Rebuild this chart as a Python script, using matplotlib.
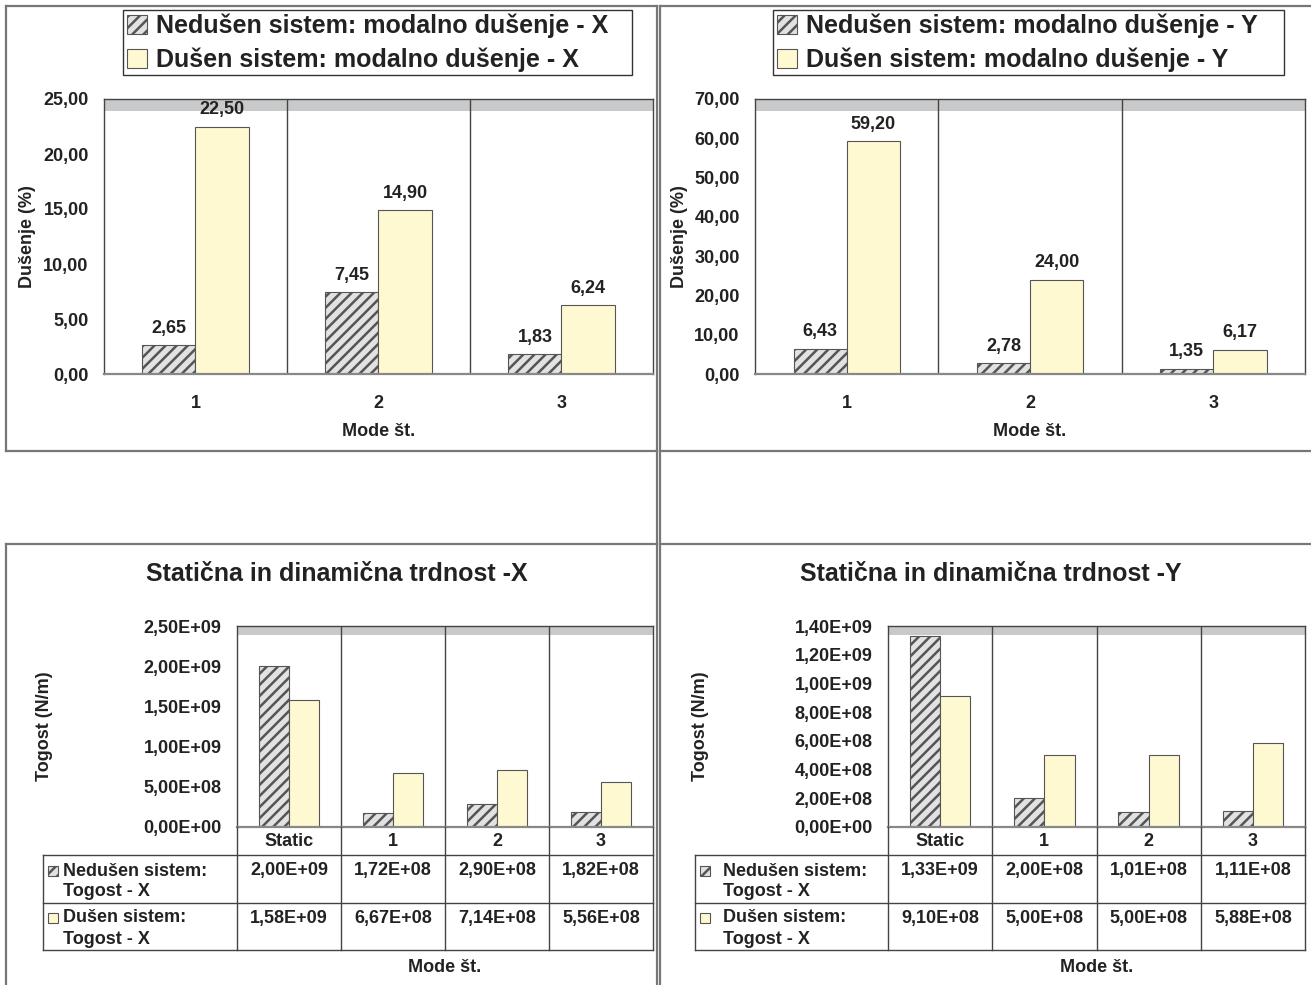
import numpy as np
import matplotlib
matplotlib.use("Agg")
import matplotlib.pyplot as plt
from matplotlib.patches import Rectangle
from matplotlib.lines import Line2D
from matplotlib.transforms import Affine2D, blended_transform_factory

# ---- data ----
modes = ["1", "2", "3"]
damp_x_undamped = [2.65, 7.45, 1.83]
damp_x_damped = [22.50, 14.90, 6.24]
damp_y_undamped = [6.43, 2.78, 1.35]
damp_y_damped = [59.20, 24.00, 6.17]

stiff_cats = ["Static", "1", "2", "3"]
stiff_x_undamped = [2.00e9, 1.72e8, 2.90e8, 1.82e8]
stiff_x_damped = [1.58e9, 6.67e8, 7.14e8, 5.56e8]
stiff_y_undamped = [1.33e9, 2.00e8, 1.01e8, 1.11e8]
stiff_y_damped = [9.10e8, 5.00e8, 5.00e8, 5.88e8]

W, H = 1311, 985
plt.rcParams['font.family'] = ['Liberation Sans Narrow', 'Liberation Sans', 'DejaVu Sans']
plt.rcParams['font.weight'] = 'bold'
plt.rcParams['axes.labelweight'] = 'bold'
plt.rcParams['hatch.linewidth'] = 1.8
plt.rcParams['hatch.color'] = '#474747'

TXT = '#222222'
YEL = '#FFF9D2'
HGRAY = '#e2e2e2'
EDGE = '#555555'
BAND = '#c8c9ca'

fig = plt.figure(figsize=(W / 100, H / 100), dpi=100)
pxT = Affine2D().scale(1 / W, -1 / H).translate(0, 1) + fig.transFigure


def px(l, t, r, b):
    return [l / W, 1 - b / H, (r - l) / W, (b - t) / H]


def fline(xs, ys, color='#777777', lw=1.6, tr=None):
    fig.add_artist(Line2D(xs, ys, color=color, lw=lw, transform=tr or pxT))


def comma(v, fmt):
    return format(v, fmt).replace('.', ',')


# panel frames
fline([6, 6], [6, 451]); fline([6, 657], [6, 6]); fline([6, 657], [451, 451])
fline([657, 657], [6, 985]); fline([660, 660], [6, 985])
fline([660, 1311], [6, 6]); fline([660, 1311], [451, 451])
fline([6, 6], [544, 985]); fline([6, 657], [544, 544]); fline([660, 1311], [544, 544])


def style_axes(ax, n, ymax, step, fmt):
    ax.set_xlim(-0.5, n - 0.5)
    ax.set_ylim(0, ymax)
    ax.set_yticks(np.arange(0, ymax + step / 2, step))
    ax.set_yticklabels([comma(v, fmt) for v in np.arange(0, ymax + step / 2, step)])
    ax.tick_params(axis='y', length=0, pad=11, labelsize=13, colors=TXT)
    ax.add_patch(Rectangle((0, 0.956), 1, 0.044, transform=ax.transAxes,
                           facecolor=BAND, edgecolor='none', zorder=0))
    ax.vlines(np.arange(0.5, n - 0.5), 0, ymax, color='#444444', lw=1.0, zorder=1)
    for s in ['top', 'left', 'right']:
        ax.spines[s].set_color('#444444')
        ax.spines[s].set_linewidth(1.0)
    ax.spines['bottom'].set_color('#888888')
    ax.spines['bottom'].set_linewidth(1.6)


def bars(ax, a, b, w):
    x = np.arange(len(a))
    ax.bar(x - w / 2, a, w, facecolor=HGRAY, edgecolor=EDGE, hatch='///', lw=0.8, zorder=2)
    ax.bar(x + w / 2, b, w, facecolor=YEL, edgecolor=EDGE, lw=0.8, zorder=2)
    return x


def ylabel_at(ax, rect, right_px):
    # rotated label: its x anchor is the right edge of the text
    ax.yaxis.set_label_coords((right_px - rect[0]) / (rect[2] - rect[0]), 0.5)


def damping_panel(rect, und, dmp, ymax, step, legend_box, ylab_x, tag):
    ax = fig.add_axes(px(*rect))
    style_axes(ax, len(modes), ymax, step, '.2f')
    x = bars(ax, und, dmp, 0.29)
    ax.set_xticks(x)
    ax.set_xticklabels(modes)
    ax.tick_params(axis='x', length=0, pad=15, labelsize=13, colors=TXT)
    ax.set_xlabel("Mode št.", fontsize=13, color=TXT, labelpad=8)
    ax.set_ylabel("Dušenje (%)", fontsize=13, color=TXT)
    ylabel_at(ax, rect, ylab_x)
    for xi, v in zip(x, und):
        ax.annotate(comma(v, '.2f'), (xi - 0.145, v), xytext=(0, 6), textcoords='offset points',
                    ha='center', va='bottom', fontsize=13, color=TXT)
    for xi, v in zip(x, dmp):
        ax.annotate(comma(v, '.2f'), (xi + 0.145, v), xytext=(0, 6), textcoords='offset points',
                    ha='center', va='bottom', fontsize=13, color=TXT)
    h1 = Rectangle((0, 0), 1, 1, facecolor=HGRAY, edgecolor=EDGE, hatch='///', lw=0.8)
    h2 = Rectangle((0, 0), 1, 1, facecolor=YEL, edgecolor=EDGE, lw=0.8)
    l, t, r, b = legend_box
    leg = fig.legend([h1, h2], [f"Nedušen sistem: modalno dušenje - {tag}",
                                f"Dušen sistem: modalno dušenje - {tag}"],
                     loc='upper left', mode='expand',
                     bbox_to_anchor=(l / W, 1 - b / H, (r - l) / W, (b - t) / H),
                     fontsize=18, fancybox=False, edgecolor='#333333', framealpha=1,
                     handlelength=0.8, handleheight=0.8, handletextpad=0.4,
                     borderpad=0.14, labelspacing=0.37, borderaxespad=0)
    leg.get_frame().set_linewidth(1.0)
    for t_ in leg.get_texts():
        t_.set_color(TXT)
    return ax


def stiffness_panel(rect, und, dmp, ymax, step, title_x, table_l, ylab_x, tag):
    ax = fig.add_axes(px(*rect))
    style_axes(ax, len(stiff_cats), ymax, step, '.2E')
    x = bars(ax, und, dmp, 0.29)
    ax.set_xticks([])
    ax.set_ylabel("Togost (N/m)", fontsize=13, color=TXT)
    ylabel_at(ax, rect, ylab_x)
    fig.text(title_x, 574, f"Statična in dinamična trdnost -{tag}", transform=pxT,
             ha='center', va='center', fontsize=18, color=TXT)
    r = rect[2]
    # table grid
    for yy in (855, 903, 950):
        fline([table_l, r], [yy, yy], color='#444444', lw=1.0)
    fline([table_l, table_l], [855, 950], color='#444444', lw=1.0)
    vt = blended_transform_factory(ax.transData, pxT)
    for b in np.arange(-0.5, len(stiff_cats), 1.0):
        fline([b, b], [827, 950], color='#444444', lw=1.0, tr=vt)
    for xi, c in zip(x, stiff_cats):
        fig.text(xi, 841, c, transform=vt, ha='center', va='center', fontsize=13, color=TXT)
    for xi, v in zip(x, und):
        fig.text(xi, 871, comma(v, '.2E'), transform=vt, ha='center', va='center', fontsize=13, color=TXT)
    for xi, v in zip(x, dmp):
        fig.text(xi, 918, comma(v, '.2E'), transform=vt, ha='center', va='center', fontsize=13, color=TXT)
    # row headers with swatches
    fig.add_artist(Rectangle((table_l + 5, 876), 10, -10, transform=pxT, facecolor=HGRAY,
                             edgecolor=EDGE, hatch='///', lw=0.8))
    fig.add_artist(Rectangle((table_l + 5, 923), 10, -10, transform=pxT, facecolor=YEL,
                             edgecolor=EDGE, lw=0.8))
    tx = table_l + 20 if table_l < 100 else table_l + 28
    fig.text(tx, 871, "Nedušen sistem:", transform=pxT, ha='left', va='center', fontsize=13, color=TXT)
    fig.text(tx, 892, "Togost - X", transform=pxT, ha='left', va='center', fontsize=13, color=TXT)
    fig.text(tx, 918, "Dušen sistem:", transform=pxT, ha='left', va='center', fontsize=13, color=TXT)
    fig.text(tx, 940, "Togost - X", transform=pxT, ha='left', va='center', fontsize=13, color=TXT)
    fig.text((rect[0] + rect[2]) / 2, 967, "Mode št.", transform=pxT, ha='center', va='center',
             fontsize=13, color=TXT)
    return ax


damping_panel((104, 99, 653, 374), damp_x_undamped, damp_x_damped, 25, 5, (123, 10, 632, 75), 36, "X")
damping_panel((755, 99, 1305, 374), damp_y_undamped, damp_y_damped, 70, 10, (773, 10, 1284, 75), 688, "Y")
stiffness_panel((237, 626, 653, 827), stiff_x_undamped, stiff_x_damped, 2.5e9, 5e8, 337, 43, 53, "X")
stiffness_panel((888, 626, 1305, 827), stiff_y_undamped, stiff_y_damped, 1.4e9, 2e8, 991, 695, 709, "Y")

fig.savefig("out.png", dpi=100)
